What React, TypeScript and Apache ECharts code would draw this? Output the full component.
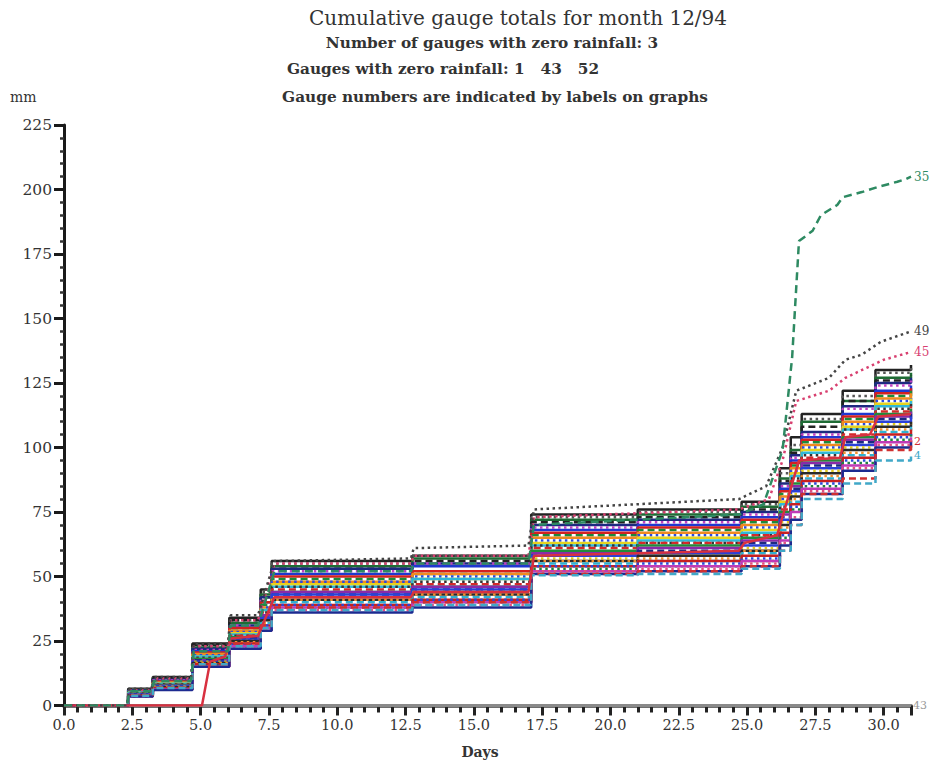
import React, { useEffect, useRef } from 'react';
import * as echarts from 'echarts';

// ---- data ----
const days = [0, 2.35, 3.25, 4.7, 6.05, 7.2, 7.6, 12.75, 17.1, 21.0, 24.8, 26.2, 26.6, 27.0, 28.5, 29.7, 31];
const xTicks = [0, 2.5, 5, 7.5, 10, 12.5, 15, 17.5, 20, 22.5, 25, 27.5, 30];
const yTicks = [0, 25, 50, 75, 100, 125, 150, 175, 200, 225];

const g50 = [0, 6.5, 11, 24, 34, 45, 56, 58, 74, 76, 79, 92, 104, 113, 122, 130, 132];
const g47 = [0, 6.3, 10.7, 23, 33, 44, 55, 58, 73, 75, 78, 90, 101, 111, 120, 129, 131];
const g12 = [0, 6.0, 10.2, 22.5, 32, 43, 54, 57, 72, 74, 77, 88, 99, 110, 118, 127, 129];
const g30 = [0, 6.2, 10.5, 23.5, 33, 42, 53, 56, 71, 73, 76, 87, 98, 108, 118, 126, 128];
const g21 = [0, 5.8, 10, 22, 31, 42, 53, 55, 70, 72, 75, 86, 97, 106, 116, 125, 127];
const g8 = [0, 5.5, 9.8, 21.5, 31, 41, 52, 55, 69, 71, 74, 85, 96, 105, 115, 124, 126];
const g17 = [0, 5.6, 9.5, 21, 30, 40, 51, 54, 68, 70, 73, 84, 95, 104, 113, 122, 124];
const g26 = [0, 5.2, 9.3, 20.5, 30, 40, 50, 52, 67, 69, 72, 83, 94, 103, 112, 121, 123];
const g39 = [0, 5.4, 9.1, 20, 29, 39, 49, 51, 66, 68, 71, 82, 93, 102, 111, 120, 122];
const g5 = [0, 5.0, 8.9, 20, 29, 38, 48, 51, 65, 67, 70, 81, 92, 101, 110, 119, 121];
const g14 = [0, 5.1, 8.7, 19.5, 28.5, 38, 48, 50, 64, 66, 69, 80, 91, 100, 109, 118, 120];
const g33 = [0, 4.8, 8.5, 19, 28, 37, 47, 49, 63, 65, 68, 79, 90, 99, 108, 117, 119];
const g19 = [0, 4.9, 8.4, 19, 27.5, 37, 46, 49, 62, 64, 67, 78, 89, 98, 107, 116, 118];
const g41 = [0, 4.7, 8.2, 18.5, 27, 36, 46, 48, 62, 63, 66, 77, 88, 97, 107, 115, 117];
const g10 = [0, 4.6, 8.0, 18, 27, 36, 45, 47, 61, 63, 66, 76, 87, 96, 105, 114, 116];
const g24 = [0, 4.5, 7.9, 18, 26.5, 35, 44, 46, 60, 62, 65, 75, 86, 95, 104, 113, 115];
const g6 = [0, 4.4, 7.7, 17.5, 26, 35, 44, 46, 59, 61, 64, 74, 85, 94, 103, 112, 114];
const g28 = [0, 4.3, 7.6, 17.5, 26, 34, 43, 45, 58, 60, 63, 73, 84, 93, 102, 111, 113];
const g37 = [0, 4.2, 7.4, 17, 25.5, 34, 43, 45, 58, 59, 62, 72, 83, 92, 101, 110, 112];
const g15 = [0, 4.1, 7.3, 17, 25, 33, 42, 44, 57, 58, 61, 71, 82, 91, 100, 109, 111];
const g3 = [0, 4.0, 7.1, 16.5, 25, 33, 41, 43, 56, 58, 60, 70, 81, 90, 99, 108, 110];
const g44 = [0, 4.0, 7.0, 16.5, 24.5, 32, 41, 43, 56, 57, 60, 69, 80, 89, 98, 107, 109];
const g22 = [0, 3.9, 6.9, 16, 24, 32, 40, 42, 55, 56, 59, 68, 79, 88, 97, 106, 108];
const g9 = [0, 3.8, 6.7, 16, 24, 31, 39, 41, 54, 56, 58, 67, 78, 87, 96, 105, 107];
const g31 = [0, 3.8, 6.6, 15.5, 23.5, 31, 39, 41, 54, 55, 57, 66, 77, 86, 95, 104, 106];
const g18 = [0, 3.7, 6.5, 15.5, 23, 30, 38, 40, 53, 54, 56, 65, 76, 85, 94, 103, 105];
const g11 = [0, 3.6, 6.3, 15, 23, 30, 38, 40, 52, 54, 56, 64, 75, 84, 93, 102, 104];
const g27 = [0, 3.5, 6.1, 15, 22, 29, 37, 39, 52, 53, 55, 63, 73, 83, 92, 101, 103];
const g20 = [0, 3.5, 6.0, 15, 22, 29, 36, 38, 51, 52, 54, 62, 72, 82, 91, 100, 102];
const g2 = [0, 4.0, 7.0, 16, 24, 31, 38, 40, 51, 52, 54, 60, 70, 82, 88, 99, 102.5];
const g4 = [0, 3.8, 6.8, 16, 23, 30, 37, 39, 50.5, 51, 53, 60, 70, 80, 86, 95, 97];

const d49 = [0, 2.3, 2.4, 3.2, 3.3, 4.65, 4.75, 6.0, 6.1, 7.1, 7.7, 12.7, 12.8, 17.0, 17.2, 24.7, 25.7, 26.3, 26.8, 28.0, 28.6, 29.2, 29.9, 31];
const v49 = [0, 0, 6.5, 6.5, 11, 11, 24, 24, 35, 35, 56, 57, 61, 62, 76, 80, 85, 100, 122, 127, 134, 136, 141, 145];
const d45 = [0, 2.3, 2.4, 3.2, 3.3, 4.65, 4.75, 6.0, 6.1, 7.1, 7.7, 12.7, 12.8, 17.0, 17.2, 24.7, 25.8, 26.3, 26.8, 28.0, 28.6, 29.4, 30.0, 31];
const v45 = [0, 0, 6, 6, 10.5, 10.5, 23, 23, 33, 33, 55, 55, 58, 58, 73, 76, 80, 95, 118, 122, 127, 131, 134, 137];
const d35 = [0, 2.3, 2.4, 3.2, 3.3, 4.65, 4.75, 6.0, 6.1, 7.1, 7.7, 12.7, 12.8, 17.0, 17.2, 24.7, 25.6, 26.0, 26.3, 26.65, 26.9, 27.4, 27.7, 28.3, 28.5, 29.2, 29.8, 30.5, 30.8, 31];
const v35 = [0, 0, 5.5, 5.5, 9.5, 9.5, 21, 21, 31, 31, 52, 52, 55, 55, 70, 74, 78, 90, 99, 135, 180, 184, 190, 194, 197, 199, 201, 203, 204, 205];
const d16 = [0, 5.05, 5.35, 5.9, 6.1, 7.1, 7.7, 12.7, 12.8, 17.0, 17.2, 24.7, 24.9, 26.1, 26.9, 28.4, 28.6, 29.5, 29.8, 31];
const v16 = [0, 0, 17, 19, 26, 27, 42, 42, 44, 44, 58, 60, 63, 66, 95, 96, 104, 105, 112, 113];
const dZero = [0, 31];
const vZero = [0, 0];

const bundle: [string, number[]][] = [
  ['50', g50], ['47', g47], ['12', g12], ['30', g30], ['21', g21], ['8', g8], ['17', g17], ['26', g26],
  ['39', g39], ['5', g5], ['14', g14], ['33', g33], ['19', g19], ['41', g41], ['10', g10], ['24', g24],
  ['6', g6], ['28', g28], ['37', g37], ['15', g15], ['3', g3], ['44', g44], ['22', g22], ['9', g9],
  ['31', g31], ['18', g18], ['11', g11], ['27', g27], ['20', g20], ['2', g2], ['4', g4],
];
const labelled = ['2', '4', '35', '45', '49'];

// ---- styles ----
const DOT = [2.5, 3.5];
const DASH = [7, 4];
const bundleStyle: [string, any][] = [
  ['#222222', 'solid'], ['#555555', DOT], ['#1e6b34', 'solid'], ['#222222', DASH], ['#1c2a80', 'solid'],
  ['#c040c0', DOT], ['#2038d0', 'solid'], ['#d42020', 'solid'], ['#1e8a3a', DASH], ['#f08a20', 'solid'],
  ['#2a4ae0', DOT], ['#e6d420', 'solid'], ['#30b8d8', 'solid'], ['#333333', DOT], ['#d42a2a', DASH],
  ['#228b3a', 'solid'], ['#8a2aa8', 'solid'], ['#1c2a80', DASH], ['#2a40d8', 'solid'], ['#e0c820', DOT],
  ['#2a2a2a', 'solid'], ['#f09030', DOT], ['#30b0d0', DASH], ['#c82020', 'solid'], ['#2a48d8', DOT],
  ['#208040', DOT], ['#c03ab8', 'solid'], ['#e05080', DOT], ['#1c2a90', 'solid'], ['#d03030', DASH],
  ['#40a8c8', DASH],
];

const zip = (xs: number[], ys: number[]) => xs.map((x, i) => [x, ys[i]]);

export default function App() {
  const ref = useRef<HTMLDivElement>(null);
  useEffect(() => {
    if (!ref.current) return;
    const chart = echarts.init(ref.current, null, { renderer: 'svg' });
    const serif = 'DejaVu Serif';
    const series: any[] = [];
    // zero-rainfall gauges
    ['1', '52', '43'].forEach((n, i) => {
      series.push({
        type: 'line', name: n, data: zip(dZero, vZero), showSymbol: false, silent: true,
        lineStyle: { color: '#8a8a8a', width: 3, type: i === 1 ? DOT : 'solid' },
        endLabel: i === 2 ? { show: true, formatter: n, color: '#999', fontFamily: serif, fontSize: 11, distance: 2 } : undefined,
        z: 1,
      });
    });
    bundle.forEach(([n, vals], i) => {
      const [c, t] = bundleStyle[i];
      series.push({
        type: 'line', name: n, data: zip(days, vals), step: 'end', showSymbol: false, silent: true,
        lineStyle: { color: c, width: 2.5, type: t },
        endLabel: labelled.includes(n) ? { show: true, formatter: n, color: c, fontFamily: serif, fontSize: 11, distance: 3 } : undefined,
        z: 2,
      });
    });
    const extra: [string, number[], number[], string, any][] = [
      ['16', d16, v16, '#d83040', 'solid'],
      ['45', d45, v45, '#d84070', DOT],
      ['49', d49, v49, '#444444', DOT],
      ['35', d35, v35, '#2e8a62', [8, 5]],
    ];
    extra.forEach(([n, dd, vv, c, t]) => {
      series.push({
        type: 'line', name: n, data: zip(dd, vv), showSymbol: false, silent: true,
        lineStyle: { color: c, width: 2.5, type: t },
        endLabel: labelled.includes(n) ? { show: true, formatter: n, color: c, fontFamily: serif, fontSize: 12, distance: 3 } : undefined,
        z: 3,
      });
    });

    chart.setOption({
      animation: false,
      backgroundColor: '#ffffff',
      grid: { left: 64, right: 19, top: 125, bottom: 59.5, containLabel: false },
      xAxis: {
        type: 'value', min: xTicks[0], max: 31, interval: xTicks[1] - xTicks[0],
        axisLine: { show: true, onZero: false, lineStyle: { color: '#6f6f6f', width: 4 } },
        axisTick: { show: true, length: 10, lineStyle: { color: '#222', width: 3 } },
        minorTick: { show: true, splitNumber: 5, length: 7, lineStyle: { color: '#222', width: 3 } },
        splitLine: { show: false },
        axisLabel: {
          margin: 12, color: '#333', fontFamily: serif, fontSize: 14.5,
          formatter: (v: number) => (xTicks.includes(v) ? v.toFixed(1) : ''),
        },
      },
      yAxis: {
        type: 'value', min: yTicks[0], max: yTicks[yTicks.length - 1], interval: yTicks[1] - yTicks[0],
        axisLine: { show: true, lineStyle: { color: '#1a1a1a', width: 3 } },
        axisTick: { show: true, length: 10, lineStyle: { color: '#1a1a1a', width: 3 } },
        minorTick: { show: true, splitNumber: 5, length: 4, lineStyle: { color: '#333', width: 2.5 } },
        splitLine: { show: false },
        axisLabel: { margin: 12, color: '#333', fontFamily: serif, fontSize: 15.5 },
      },
      graphic: [
        { type: 'text', x: 518, y: 18, style: { text: 'Cumulative gauge totals for month 12/94', textAlign: 'center', textVerticalAlign: 'middle', font: `20px "${serif}"`, fill: '#333' } },
        { type: 'text', x: 492, y: 43, style: { text: 'Number of gauges with zero rainfall: 3', textAlign: 'center', textVerticalAlign: 'middle', font: `bold 15.3px "${serif}"`, fill: '#333' } },
        { type: 'text', x: 443, y: 69, style: { text: 'Gauges with zero rainfall: 1\u00a0\u00a0 43\u00a0\u00a0 52', textAlign: 'center', textVerticalAlign: 'middle', font: `bold 15.3px "${serif}"`, fill: '#333' } },
        { type: 'text', x: 495, y: 97, style: { text: 'Gauge numbers are indicated by labels on graphs', textAlign: 'center', textVerticalAlign: 'middle', font: `bold 15.3px "${serif}"`, fill: '#333' } },
        { type: 'text', x: 10, y: 97, style: { text: 'mm', textAlign: 'left', textVerticalAlign: 'middle', font: `14px "${serif}"`, fill: '#333' } },
        { type: 'text', x: 480, y: 752, style: { text: 'Days', textAlign: 'center', textVerticalAlign: 'middle', font: `bold 14px "${serif}"`, fill: '#333' } },
      ],
      series,
    });
    return () => chart.dispose();
  }, []);
  return <div ref={ref} style={{ position: 'absolute', left: 0, top: 0, width: 930, height: 765, background: '#fff' }} />;
}
